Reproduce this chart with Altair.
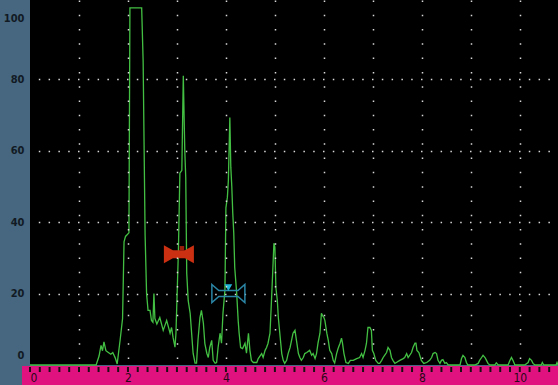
import altair as alt
import pandas as pd

# A-scan trace: sound path (horizontal units) against amplitude (% full screen height)
path = [
    0, 1.35, 1.41, 1.45, 1.48, 1.51, 1.55, 1.60, 1.65, 1.69, 1.74, 1.78, 1.84, 1.89, 1.92, 1.95,
    2.02, 2.04, 2.28, 2.31, 2.35, 2.38, 2.41, 2.45, 2.48, 2.51, 2.53, 2.55, 2.59, 2.65, 2.72, 2.79,
    2.86, 2.89, 2.92, 2.96, 2.98, 3.03, 3.06, 3.10, 3.13, 3.16, 3.18, 3.20, 3.23, 3.27, 3.30, 3.33,
    3.37, 3.40, 3.43, 3.47, 3.50, 3.54, 3.57, 3.61, 3.64, 3.67, 3.71, 3.74, 3.78, 3.81, 3.84, 3.88,
    3.91, 3.94, 3.98, 4.00, 4.03, 4.05, 4.08, 4.10, 4.12, 4.14, 4.16, 4.18, 4.22, 4.25, 4.27, 4.30,
    4.34, 4.39, 4.42, 4.46, 4.49, 4.52, 4.56, 4.63, 4.66, 4.73, 4.76, 4.80, 4.83, 4.86, 4.90, 4.93,
    4.95, 4.98, 5.00, 5.02, 5.05, 5.07, 5.10, 5.14, 5.17, 5.20, 5.24, 5.27, 5.31, 5.34, 5.37, 5.41,
    5.44, 5.48, 5.51, 5.54, 5.58, 5.61, 5.65, 5.71, 5.75, 5.78, 5.82, 5.85, 5.88, 5.92, 5.95, 5.97,
    6.00, 6.02, 6.06, 6.09, 6.12, 6.16, 6.19, 6.22, 6.26, 6.29, 6.33, 6.36, 6.38, 6.41, 6.45, 6.50,
    6.54, 6.60, 6.67, 6.73, 6.77, 6.80, 6.84, 6.87, 6.90, 6.94, 6.97, 6.99, 7.02, 7.06, 7.11, 7.14,
    7.18, 7.21, 7.24, 7.28, 7.31, 7.35, 7.38, 7.41, 7.45, 7.48, 7.55, 7.62, 7.65, 7.69, 7.72, 7.79,
    7.82, 7.86, 7.88, 7.90, 7.94, 7.99, 8.04, 8.10, 8.16, 8.20, 8.23, 8.27, 8.30, 8.33, 8.37, 8.40,
    8.43, 8.47, 8.50, 8.54, 8.78, 8.81, 8.84, 8.88, 8.91, 8.94, 9.08, 9.15, 9.18, 9.22, 9.25, 9.29,
    9.32, 9.35, 9.39, 9.49, 9.52, 9.56, 9.76, 9.80, 9.83, 9.86, 9.90, 10.10, 10.17, 10.20, 10.24,
    10.27, 10.31, 10.44, 10.46, 10.49, 10.74, 10.76, 10.78,
]
amplitude = [
    0, 0, 2.5, 5.5, 4, 6.5, 4, 3.5, 3, 3.5, 2, 0.3, 7, 13, 34.5, 36,
    37, 100, 100, 85, 36.5, 20, 15.3, 15.3, 12.5, 12, 20, 13, 11.5, 13.3, 9.7, 12.5,
    8.9, 10.5, 7.8, 5, 8.9, 32, 53.7, 54.5, 81, 60, 52.5, 25.7, 18, 14.5, 8.9, 3.3,
    0.5, 0.5, 7, 13.3, 15.3, 11.7, 6, 3.3, 2.1, 4.9, 6.9, 1.3, 0.5, 0.7, 4.9, 8.9,
    6.1, 14.5, 21, 44, 47, 51.7, 69.3, 55.4, 50, 42.5, 37, 27.3, 20, 12.5, 8.9, 4.9,
    4.6, 6.1, 3.3, 8.9, 4.1, 1.3, 0.7, 0.7, 1.8, 3.2, 2.1, 4.1, 4.9, 6.1, 8.9, 18,
    24.3, 34.1, 33, 21.7, 18, 13.3, 8.9, 3.2, 1.3, 0.45, 1.3, 3.2, 4.9, 6.9, 8.9, 9.7,
    6.9, 3.2, 2.1, 1.3, 2.1, 3.2, 3.5, 4.1, 2.7, 3.2, 1.8, 3.2, 6.1, 8.9, 14.5, 13.9,
    13.3, 12.5, 8.9, 6.9, 4.1, 3.2, 1.3, 0.6, 3.2, 4.6, 6.1, 7.5, 6.1, 3.2, 0.7, 0.45,
    1.3, 1.3, 1.8, 2.1, 3.2, 2.1, 4.1, 6.1, 10.5, 10.5, 9.7, 4.1, 3.2, 1.3, 0.45, 0.45,
    1.3, 2.1, 2.7, 3.5, 4.9, 4.1, 2.1, 1.3, 0.45, 0.7, 1.3, 1.8, 2.1, 3.2, 2.1, 3.5,
    4.9, 6.1, 6.1, 4.1, 3.5, 1.3, 0.45, 0.7, 1.3, 2.1, 3.2, 3.5, 3.2, 1.3, 0.45, 1.3,
    1.5, 0.45, 0.7, 0, 0, 1.8, 2.7, 2.1, 0.7, 0, 0, 0.45, 1.3, 2.1, 2.7, 2.1,
    1.3, 0.45, 0, 0, 0.6, 0, 0, 1.3, 2.1, 1.3, 0, 0, 0.7, 1.8, 1.3,
    0.45, 0, 0, 0.7, 0, 0, 0.7, 0,
]

# Gates: centre of each gate along the sound path and its threshold level (%)
gate_a_pos, gate_a_level = [3.04], [31]
gate_b_pos, gate_b_level = [4.05], [20]

# Ruler graduations (every 0.2) and amplitude labels
x_ticks = [round(i * 0.2, 1) for i in range(54)]
y_ticks = [0, 20, 40, 60, 80, 100]

X_DOMAIN = [0, 10.78]
Y_DOMAIN = [0, 102.2]

BLUE = "#46677f"
MAGENTA = "#e0127f"
TRACE = "#43c043"
FONT = "DejaVu Sans Condensed"

# Bow-tie gate outline, in the unit box used by custom point shapes
GATE_A_SHAPE = "M-1,-0.6L-0.4,-0.27L0.4,-0.27L1,-0.6L1,0.6L0.4,0.27L-0.4,0.27L-1,0.6Z"
GATE_B_SHAPE = "M-1,-0.55L-0.58,-0.18L0.58,-0.18L1,-0.55L1,0.55L0.58,0.18L-0.58,0.18L-1,0.55Z"

trace_df = pd.DataFrame({"path": path, "amp": amplitude})
gate_a_df = pd.DataFrame({"path": gate_a_pos, "amp": gate_a_level})
gate_b_df = pd.DataFrame({"path": gate_b_pos, "amp": gate_b_level})
ticks_df = pd.DataFrame({"path": x_ticks})

x_scale = alt.Scale(domain=X_DOMAIN, nice=False, zero=False)
y_scale = alt.Scale(domain=Y_DOMAIN, nice=False, zero=False)

x_axis = alt.Axis(
    values=x_ticks,
    tickCount=200,
    labelExpr="datum.value % 2 === 0 ? '' + datum.value : ''",
    labelOverlap=False,
    grid=True,
    gridColor="#d8d8d8",
    gridWidth=1.5,
    gridDash=[1.5, 12.78],
    gridOpacity={"condition": {"test": "datum.value > 0 && datum.value % 1 === 0", "value": 1}, "value": 0},
    domain=False,
    ticks=False,
    tickSize=0,
    offset=1,
    labelColor="#2a0618",
    labelFont=FONT,
    labelFontSize=12,
    labelPadding=6,
    zindex=1,
)

y_axis = alt.Axis(
    values=y_ticks,
    tickCount=20,
    grid=True,
    gridColor="#d8d8d8",
    gridWidth=1.5,
    gridDash=[1.5, 8.3],
    gridDashOffset=1.5,
    gridOpacity={"condition": {"test": "datum.value > 0 && datum.value < 100", "value": 1}, "value": 0},
    domain=False,
    ticks=False,
    tickSize=0,
    labelColor="#121a24",
    labelFont=FONT,
    labelFontSize=11,
    labelFontWeight="bold",
    labelPadding=6,
    labelFlush=10,
    labelFlushOffset=-5,
    labelOverlap=False,
)

# Ruler strip under the trace
ruler = alt.Chart(pd.DataFrame({"k": [0]})).mark_rect(color=MAGENTA).encode(
    x=alt.value(-8), x2=alt.value(528), y=alt.value(366), y2=alt.value(385)
)

# Graduation marks along the top edge of the ruler
graduations = alt.Chart(ticks_df).mark_rule(color="#1a1014", strokeWidth=2).encode(
    x=alt.X("path:Q", scale=x_scale, title=None),
    y=alt.value(367),
    y2=alt.value(372),
)

trace = alt.Chart(trace_df).mark_line(color=TRACE, strokeWidth=1.3).encode(
    x=alt.X("path:Q", scale=x_scale, axis=x_axis, title=None),
    y=alt.Y("amp:Q", scale=y_scale, axis=y_axis, title=None),
)

gate_a = alt.Chart(gate_a_df).mark_point(
    shape=GATE_A_SHAPE, filled=True, color="#cc3012", size=900, opacity=1, strokeWidth=0
).encode(
    x=alt.X("path:Q", scale=x_scale, title=None),
    y=alt.Y("amp:Q", scale=y_scale, title=None),
)
gate_a_flag = alt.Chart(gate_a_df).mark_point(
    shape="square", filled=True, color="#9c1e0a", size=20, opacity=1, yOffset=-6, xOffset=3
).encode(
    x=alt.X("path:Q", scale=x_scale, title=None),
    y=alt.Y("amp:Q", scale=y_scale, title=None),
)

gate_b = alt.Chart(gate_b_df).mark_point(
    shape=GATE_B_SHAPE, filled=False, stroke="#2b86a6", size=1089, opacity=1, strokeWidth=1.5
).encode(
    x=alt.X("path:Q", scale=x_scale, title=None),
    y=alt.Y("amp:Q", scale=y_scale, title=None),
)
gate_b_flag = alt.Chart(gate_b_df).mark_point(
    shape="triangle-down", filled=True, color="#22b6d6", size=60, opacity=1, yOffset=-6
).encode(
    x=alt.X("path:Q", scale=x_scale, title=None),
    y=alt.Y("amp:Q", scale=y_scale, title=None),
)

chart = (
    alt.layer(ruler, graduations, trace, gate_a, gate_a_flag, gate_b, gate_b_flag)
    .properties(
        width=528,
        height=365,
        padding={"left": 30, "top": 0, "right": 0, "bottom": 20},
        autosize="none",
        background=BLUE,
    )
    .configure_view(fill="black", strokeWidth=0)
)

chart.save("out.html", embed_options={"renderer": "svg", "actions": False})
